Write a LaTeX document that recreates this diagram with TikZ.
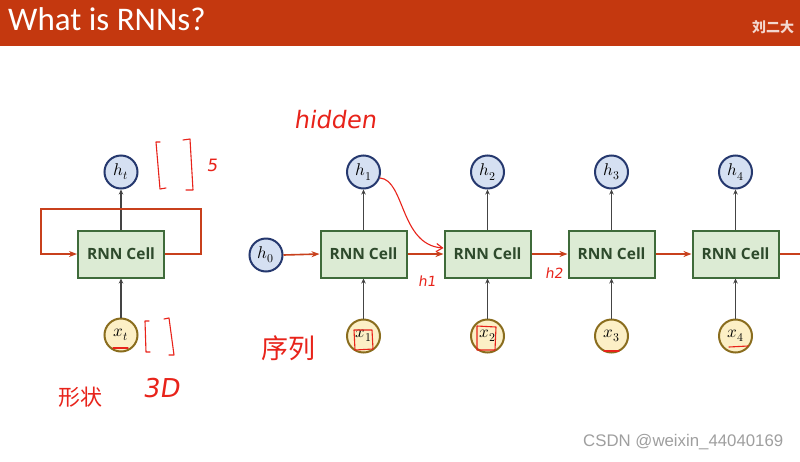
\documentclass[tikz,border=0pt]{standalone}
\usepackage{fontspec}
\usepackage{unicode-math}
\setmainfont{Liberation Sans}
\setmathfont{Latin Modern Math}
\newfontfamily\titlefont{Carlito}
\newfontfamily\cellfont{Open Sans}
\newfontfamily\cjkfont{Noto Sans CJK SC}
\newfontfamily\handfont[FakeSlant=0.15]{DejaVu Sans}
\usetikzlibrary{arrows.meta,calc}
\definecolor{barred}{HTML}{C4380F}
\definecolor{cellfill}{HTML}{DCEBD4}
\definecolor{celldraw}{HTML}{3F6B3A}
\definecolor{celltext}{HTML}{2E4A2C}
\definecolor{hfill}{HTML}{D5E0F2}
\definecolor{hdraw}{HTML}{25386E}
\definecolor{xfill}{HTML}{FCEFC6}
\definecolor{xdraw}{HTML}{8A6D1E}
\definecolor{arrred}{HTML}{C8401C}
\definecolor{ink}{HTML}{E8231A}
\definecolor{graya}{HTML}{444444}
\tikzset{
  cell/.style={draw=celldraw,fill=cellfill,line width=2pt,minimum width=86pt,minimum height=47pt,inner sep=0pt,font=\cellfont\bfseries\fontsize{15.5}{17}\selectfont,text=celltext},
  hc/.style={circle,draw=hdraw,fill=hfill,line width=2pt,minimum size=33pt,inner sep=0pt,font=\fontsize{17}{19}\selectfont},
  xc/.style={circle,draw=xdraw,fill=xfill,line width=2pt,minimum size=33pt,inner sep=0pt,font=\fontsize{17}{19}\selectfont},
  redarr/.style={draw=arrred,line width=1.6pt,-{Stealth[length=8pt,width=6pt,inset=2.5pt]}},
  grayarr/.style={draw=graya,line width=1.8pt,-{Stealth[length=5pt,width=4.5pt]}},
  hand/.style={draw=ink,line width=1.1pt,line cap=round,line join=round},
  handtext/.style={text=ink,font=\handfont}
}
\begin{document}
\begin{tikzpicture}[x=1pt,y=-1pt]
\useasboundingbox (0,0) rectangle (800,461);
\clip (0,0) rectangle (800,461);
\fill[white] (0,0) rectangle (800,461);
% title bar
\fill[barred] (0,0) rectangle (800,46);
\node[anchor=base west,text=white,font=\titlefont\fontsize{33}{36}\selectfont,inner sep=0pt] (title) at (8,30) {What is RNNs?};
\node[anchor=base west,text=white!80!barred,font=\cjkfont\bfseries\fontsize{14}{16}\selectfont,inner sep=0pt] (author) at (752,32) {刘二大};
% left folded cell
\node[cell] (c0) at (121,254) {RNN Cell};
\node[hc] (ht) at (121,172) {$h_t$};
\node[xc] (xt) at (121,335) {$x_t$};
\draw[grayarr] (c0.north) -- (ht.south);
\draw[grayarr] (xt.north) -- (c0.south);
\draw[redarr] (c0.east) -- (201,254) -- (201,209) -- (41,209) -- (41,254) -- (c0.west);
% unrolled chain
\node[hc] (h0) at (266,255) {$h_0$};
\foreach \i/\x in {1/363.5,2/487.5,3/611.5,4/735.5}{
  \node[cell] (c\i) at (\x,254) {RNN Cell};
  \node[hc] (h\i) at (\x,172) {$h_\i$};
  \node[xc] (x\i) at (\x,336) {$x_\i$};
  \draw[grayarr] (c\i.north) -- (h\i.south);
  \draw[grayarr] (x\i.north) -- (c\i.south);
}
\coordinate (out) at (830,254);
\draw[redarr] (h0.east) -- (c1.west);
\draw[redarr] (c1.east) -- (c2.west);
\draw[redarr] (c2.east) -- (c3.west);
\draw[redarr] (c3.east) -- (c4.west);
\draw[redarr] (c4.east) -- (out);
% handwritten annotations
\draw[hand] (160,142) -- (156,142) -- (160,189) -- (166,188);
\draw[hand] (183,140) -- (190,139) -- (193,190) -- (186,190);
\node[handtext,font=\handfont\fontsize{17}{19}\selectfont] (five) at (212,165) {5};
\draw[hand] (149,321) -- (145,321) -- (146,352) -- (150,352);
\draw[hand] (164,319) -- (169,318) -- (174,355) -- (169,355);
\node[handtext,font=\cjkfont\fontsize{22}{24}\selectfont] (shape) at (80,397) {形状};
\node[handtext,font=\handfont\fontsize{26}{28}\selectfont] (threeD) at (161,388) {3D};
\node[handtext,font=\handfont\fontsize{24}{26}\selectfont] (hidden) at (335,120) {hidden};
\node[handtext,font=\cjkfont\fontsize{27}{29}\selectfont] (seq) at (288,348) {序列};
\node[handtext,font=\handfont\fontsize{14}{16}\selectfont] (hone) at (427,281) {h1};
\node[handtext,font=\handfont\fontsize{14}{16}\selectfont] (htwo) at (554,273) {h2};
\draw[hand,-{Straight Barb[length=6pt,width=8pt]}] (h1.-20) .. controls (405,180) and (400,245) .. ($(c2.west)+(0,-6)$);
\draw[hand] (113,348) -- (128,348);
\draw[hand] (604,351) -- (619,351);
\draw[hand] (729,347) -- (748,346);
\draw[hand] (354,330) -- (372,330) -- (373,349) -- (355,350) -- cycle;
\draw[hand] (477,326) -- (496,327) -- (495,350) -- (477,350) -- cycle;
% watermark
\node[anchor=base west,text=gray!75,font=\fontsize{16.8}{18}\selectfont,inner sep=0pt] (wm) at (583,446) {CSDN @weixin\_44040169};
\end{tikzpicture}
\end{document}
